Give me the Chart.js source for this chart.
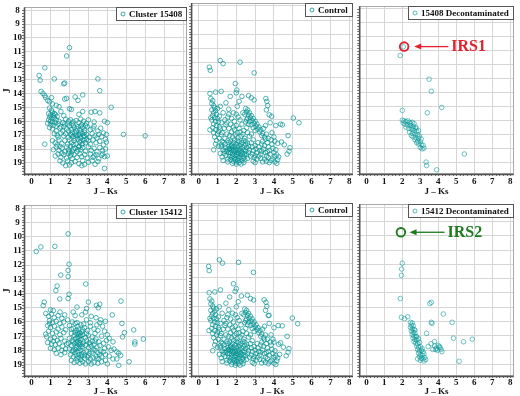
<!DOCTYPE html>
<html lang="en">
<head>
<meta charset="UTF-8">
<title>J vs J-Ks</title>
<style>
  body { margin: 0; background: #fff; }
  #wrap { position: relative; width: 520px; height: 396px; overflow: hidden; }
  #wrap canvas { position: absolute; }
</style>
</head>
<body>
<div id="wrap">
  <canvas id="p1" width="190" height="198" style="left:0;top:0"></canvas>
  <canvas id="p2" width="169" height="198" style="left:188px;top:0"></canvas>
  <canvas id="p3" width="167" height="198" style="left:353px;top:0"></canvas>
  <canvas id="p4" width="190" height="198" style="left:0;top:198px"></canvas>
  <canvas id="p5" width="169" height="198" style="left:188px;top:198px"></canvas>
  <canvas id="p6" width="167" height="198" style="left:353px;top:198px"></canvas>
</div>

<script src="https://cdn.jsdelivr.net/npm/chart.js"></script>
<script>
const jksTicks = [0, 1, 2, 3, 4, 5, 6, 7, 8]
const jTicks = [8, 9, 10, 11, 12, 13, 14, 15, 16, 17, 18, 19]
const panelLabels = ['Cluster 15408', 'Control', '15408 Decontaminated', 'Cluster 15412', 'Control', '15412 Decontaminated']

// [J-Ks, J] pairs
const cluster15408 = [
  [2.0,10.7],[1.85,11.3],[0.7,12.15],[0.4,12.7],[0.45,13.05],[1.2,12.95],[1.7,13.3],[1.75,13.25],[3.5,12.95],[3.6,13.8],
  [0.5,13.85],[0.6,14.0],[0.7,14.15],[0.75,14.3],[1.05,14.3],[0.85,14.5],[0.95,14.6],[1.75,14.4],[1.85,14.35],[2.3,14.25],
  [2.45,14.5],[2.7,14.1],[4.2,15.0],[1.1,14.75],[1.3,14.85],[1.45,14.95],[2.0,15.1],[2.1,15.15],[3.15,15.35],[3.35,15.3],
  [1.55,15.3],[1.7,15.6],[2.5,15.5],[2.7,15.3],[3.6,15.4],
  [0.95,15.05],[1.05,15.2],[1.1,15.35],[0.9,15.45],[1.0,15.55],[1.15,15.6],[1.25,15.5],[0.95,15.7],[1.05,15.8],[1.2,15.75],
  [1.3,15.9],[0.9,15.9],[1.0,16.0],[1.1,16.05],[1.25,16.1],[0.85,16.15],[1.0,16.25],[1.15,16.3],[1.3,16.35],[0.95,16.45],
  [1.1,16.55],[1.4,16.2],[1.2,15.45],[1.35,15.65],[1.45,16.0],[1.55,16.4],
  [1.8,15.85],[1.95,16.0],[2.05,15.9],[2.2,16.05],[2.35,15.95],[2.5,16.1],[2.6,15.85],[2.75,16.0],[2.9,16.15],[3.0,15.9],
  [3.3,16.05],[3.85,16.0],[4.0,16.1],[1.65,16.1],[2.15,16.2],[2.65,16.25],
  [1.5,16.5],[1.7,16.4],[1.85,16.55],[2.0,16.35],[2.1,16.6],[2.25,16.45],[2.35,16.7],[2.45,16.4],[2.55,16.6],[2.7,16.45],
  [2.8,16.65],[2.95,16.4],[3.1,16.6],[3.25,16.5],[1.3,16.7],[1.95,16.7],[2.6,16.35],[2.85,16.3],[3.5,16.7],
  [1.2,16.9],[1.35,17.0],[1.55,16.85],[1.7,17.05],[1.8,16.9],[1.95,17.15],[2.05,16.95],[2.2,17.1],[2.3,16.85],[2.4,17.05],
  [2.5,16.95],[2.6,17.2],[2.7,16.9],[2.8,17.1],[2.9,16.95],[3.05,17.15],[3.2,16.9],[3.35,17.05],[3.55,16.95],[3.7,17.1],
  [3.95,16.95],[4.85,16.95],[6.0,17.05],[2.15,16.8],[2.55,17.0],[2.75,17.05],
  [0.7,17.65],[1.1,17.4],[1.25,17.55],[1.45,17.35],[1.6,17.6],[1.75,17.4],[1.9,17.65],[2.0,17.35],[2.1,17.55],[2.25,17.4],
  [2.35,17.65],[2.45,17.3],[2.55,17.5],[2.65,17.7],[2.75,17.35],[2.85,17.55],[3.0,17.4],[3.1,17.65],[3.25,17.35],[3.4,17.55],
  [3.6,17.45],[3.8,17.7],[3.95,17.5],[2.2,17.7],[2.6,17.4],[1.35,17.7],
  [1.15,18.05],[1.3,17.85],[1.45,18.1],[1.6,17.95],[1.75,18.2],[1.85,17.85],[1.95,18.05],[2.05,17.8],[2.15,18.15],[2.3,17.95],
  [2.4,18.2],[2.5,17.85],[2.6,18.05],[2.7,17.9],[2.85,18.15],[3.0,17.85],[3.15,18.1],[3.3,17.95],[3.45,18.2],[3.6,17.9],
  [3.75,18.1],[3.9,18.0],[4.0,18.5],[2.0,18.2],[1.5,17.8],
  [1.25,18.5],[1.4,18.35],[1.55,18.6],[1.7,18.4],[1.85,18.65],[1.95,18.3],[2.05,18.5],[2.15,18.7],[2.25,18.4],[2.4,18.6],
  [2.55,18.35],[2.65,18.55],[2.8,18.4],[2.95,18.65],[3.1,18.35],[3.25,18.6],[3.4,18.4],[3.55,18.7],[3.7,18.45],[3.85,18.55],
  [2.1,18.35],[1.6,18.3],
  [1.5,18.85],[1.65,19.0],[1.9,18.85],[2.1,19.0],[2.3,18.9],[2.5,19.05],[2.7,18.85],[2.8,19.1],[3.0,18.95],[3.35,19.1],
  [3.5,18.9],[3.85,19.4],[2.0,19.15],[1.8,19.2],[2.65,19.2],[3.2,18.85],
  [2.2,16.3],[2.4,16.55],[2.3,17.25],[2.5,17.8],[2.7,17.6],[2.9,17.3],[2.45,18.05],[2.2,18.0],[1.9,16.2],[2.1,17.0],
  [2.35,17.0],[2.6,16.8],[2.8,16.8],[1.65,16.7],[1.4,17.15],[3.3,18.5],[3.45,17.2],[3.65,16.5],[3.8,16.85],[3.9,17.3],
  [3.75,18.35],[3.3,16.35],[1.75,16.2]
]

const control15408 = [
  [0.57,12.3],[0.62,12.52],[1.15,11.83],[1.3,12.05],[2.2,11.95],[2.95,12.7],[1.95,13.45],[2.03,13.9],[2.0,14.1],[0.6,14.15],
  [0.9,14.05],[1.2,14.0],[1.68,14.35],[2.3,14.35],[2.65,14.3],[2.8,14.45],[2.95,14.6],[3.57,14.5],[3.62,14.7],[3.67,15.0],
  [2.05,15.05],[1.45,14.8],[1.6,15.25],[2.15,14.7],[1.85,15.5],
  [5.03,15.87],[5.33,16.2],[3.88,15.75],[4.35,16.3],[4.45,16.35],[4.1,16.4],[4.75,17.1],[4.85,17.95],[4.8,18.2],[4.7,18.4],
  [4.2,18.8],[4.05,18.95],[4.15,19.05],[4.4,17.55],[4.55,17.75],[3.9,16.9],[4.0,17.2],[4.2,17.65],[3.85,17.4],
  [0.65,14.5],[0.75,14.65],[0.7,14.85],[0.8,15.0],[0.85,15.15],[0.7,15.3],[0.9,15.35],[0.8,15.5],[0.95,15.6],[0.75,15.7],
  [0.85,15.85],[1.0,15.9],[0.7,16.0],[0.9,16.1],[1.05,16.15],[0.8,16.3],[0.95,16.4],[1.1,16.5],[0.75,16.55],[0.9,16.7],
  [1.05,16.8],[1.15,16.65],[0.8,16.9],[1.0,17.0],[1.2,17.05],[0.85,17.2],[1.1,17.3],[0.95,17.45],[1.25,17.5],[0.9,17.7],
  [1.05,17.85],[0.8,18.1],[1.2,17.75],[1.0,15.2],[1.1,15.75],[1.2,16.2],[1.25,16.9],[0.65,15.85],[1.3,15.5],[1.4,16.0],
  [1.35,16.6],[1.5,17.0],[1.45,16.35],[1.55,15.8],[0.6,16.7],[1.15,15.05],
  [2.5,15.2],[2.6,15.3],[2.55,15.45],[2.7,15.5],[2.65,15.65],[2.8,15.7],[2.75,15.85],[2.9,15.9],[2.85,16.05],[3.0,16.1],
  [2.95,16.25],[3.1,16.3],[3.05,16.45],[3.2,16.5],[3.15,16.65],[3.3,16.7],[3.25,16.85],[3.4,16.95],[3.35,17.1],[2.6,15.9],
  [2.7,16.1],[2.8,16.35],[2.9,16.55],[3.0,16.75],[2.45,15.6],[2.55,16.0],[2.65,16.3],[3.5,17.2],[3.45,16.6],[3.6,17.0],
  [3.7,17.3],[3.55,16.4],[3.8,16.2],[3.75,15.65],[3.6,15.3],
  [1.6,15.6],[1.75,15.9],[1.9,16.1],[2.1,15.8],[2.2,16.0],[2.35,15.5],[1.7,16.3],[1.85,16.5],[2.0,16.4],[2.15,16.6],
  [2.3,16.3],[2.4,16.75],[1.6,16.6],[1.75,16.85],[1.9,16.7],[2.05,16.9],[2.2,16.85],[2.35,17.0],[1.65,17.1],[1.8,17.2],
  [1.95,17.05],[2.1,17.25],[2.25,17.15],[2.45,17.3],[2.55,16.55],[2.6,16.9],[2.7,17.15],[2.8,17.0],[2.9,17.4],[1.4,17.3],
  [1.55,17.45],[2.0,15.6],[1.5,16.2],[2.5,16.15],[1.3,17.6],
  [1.2,17.9],[1.3,18.1],[1.35,18.35],[1.25,18.6],[1.4,17.7],[1.45,17.95],[1.5,18.2],[1.45,18.5],[1.55,18.75],[1.6,17.6],
  [1.6,17.85],[1.65,18.05],[1.6,18.3],[1.65,18.55],[1.7,18.8],[1.7,17.5],[1.75,17.75],[1.8,17.95],[1.75,18.15],[1.8,18.4],
  [1.75,18.65],[1.85,18.9],[1.85,17.6],[1.9,17.85],[1.95,18.05],[1.9,18.25],[1.95,18.5],[1.9,18.7],[2.0,18.95],[2.0,17.7],
  [2.05,17.9],[2.1,18.1],[2.05,18.3],[2.1,18.55],[2.05,18.75],[2.15,19.0],[2.15,17.55],[2.2,17.8],[2.25,18.0],[2.2,18.2],
  [2.25,18.45],[2.2,18.65],[2.3,18.85],[2.3,17.6],[2.35,17.9],[2.4,18.1],[2.35,18.35],[2.4,18.6],[2.45,18.8],[2.5,17.5],
  [2.5,17.75],[2.55,17.95],[2.5,18.2],[2.55,18.45],[2.6,18.7],[2.6,17.65],[2.65,17.85],[2.7,18.1],[2.65,18.3],[2.75,18.55],
  [2.8,17.6],[2.85,17.9],[2.9,18.15],[2.85,18.4],[2.95,18.65],[3.0,17.8],[3.05,18.05],[3.1,18.3],[3.0,18.5],[3.15,17.6],
  [3.2,17.9],[3.25,18.15],[3.3,18.4],[3.35,17.7],[1.8,19.05],[2.25,19.1],[2.0,19.1],[2.4,19.0],[1.55,18.95],[1.3,18.85],
  [1.15,18.35],[1.9,17.4],[2.05,17.45],[2.4,17.45],[1.7,18.3],[1.85,18.15],[2.15,18.35],[1.95,18.8],[2.1,18.85],[2.35,18.7],
  [1.65,18.0],[2.0,18.15],[2.25,17.7],[1.8,18.55],[2.05,18.45],[1.55,18.1],[1.75,17.85],[2.3,18.25],[2.45,18.4],[1.4,18.2],
  [3.4,17.5],[3.5,17.8],[3.45,18.05],[3.55,18.3],[3.6,18.55],[3.5,18.75],[3.65,17.6],[3.7,17.9],[3.75,18.15],[3.8,18.4],
  [3.7,18.65],[3.85,18.85],[3.9,17.7],[3.95,18.0],[4.0,18.3],[4.05,18.55],[3.95,18.75],[4.1,18.1],[4.15,18.45],[4.25,18.6],
  [3.55,17.35],[3.3,18.7],[3.2,18.55],[3.4,18.95],[3.6,18.9],[3.1,18.75],[2.9,18.9],[3.0,19.0],[3.75,19.0],[4.05,17.5],
  [3.35,18.2],[3.65,18.25]
]

const decon15408 = [
  [2.05,10.7],[1.88,11.33],[3.49,13.02],[3.61,13.88],[4.19,15.04],[2.0,15.25],[3.39,15.42],[5.45,18.37],[3.32,18.95],[3.35,19.2],
  [3.91,19.5],
  [2.0,15.95],[2.1,16.0],[2.2,16.05],[2.3,16.0],[2.4,16.1],[2.55,16.1],[2.65,16.2],[2.05,16.15],[2.15,16.25],[2.3,16.3],
  [2.45,16.35],[2.6,16.4],[2.75,16.45],[2.2,16.45],[2.35,16.55],[2.5,16.6],[2.65,16.7],[2.8,16.75],[2.4,16.8],[2.55,16.9],
  [2.7,16.95],[2.85,17.0],[2.5,17.05],[2.6,17.15],[2.75,17.2],[2.9,17.25],[2.7,17.35],[2.85,17.45],[3.0,17.5],[2.9,17.65],
  [3.05,17.7],[3.15,17.75],[3.0,17.9],[3.2,17.95],[3.1,18.0],[2.75,16.55],[2.9,16.7],[2.45,16.2],[2.6,16.55],[2.95,17.1],
  [3.05,17.3],[2.8,17.55]
]

const cluster15412 = [
  [1.93,9.8],[0.25,11.04],[0.49,10.72],[1.23,10.68],[1.98,11.94],[1.93,12.37],[1.93,12.8],[1.54,12.7],[2.86,13.33],[1.35,13.47],
  [1.28,13.79],[1.98,14.05],[1.93,14.35],[1.49,14.38],[0.67,14.6],[0.61,14.85],[4.72,14.53],[3.42,14.83],[3.6,14.75],[3.52,15.0],
  [2.9,15.05],[4.26,15.5],[4.77,16.1],[5.39,16.56],[4.9,16.75],[4.8,17.05],[5.9,17.2],[5.45,17.4],[5.45,17.55],[4.6,18.2],
  [4.7,18.35],[4.5,18.6],[5.15,18.8],[4.6,19.05],[3.0,14.6],[2.4,14.95],[2.2,15.3],[2.3,15.55],[1.0,15.15],[1.15,15.2],
  [0.75,15.4],[0.9,15.6],[1.05,15.45],[1.2,15.7],[1.4,15.55],[1.6,15.75],[1.75,15.5],[0.95,15.9],[1.1,16.05],[1.3,15.95],
  [1.5,16.1],[1.7,16.0],[0.85,16.25],[1.0,16.4],[1.2,16.3],[1.4,16.5],[1.6,16.35],[1.8,16.55],[0.9,16.65],[1.1,16.8],
  [1.3,16.7],[1.5,16.9],[1.7,16.75],[0.8,17.05],[1.0,17.2],[1.2,17.1],[1.35,17.3],[1.55,17.15],[1.75,17.35],[0.85,17.45],
  [1.05,17.55],[1.25,17.6],[1.45,17.5],[1.65,17.7],[1.85,17.55],[1.0,17.85],[1.2,17.95],[1.4,17.85],[1.6,18.0],[1.8,17.9],
  [1.3,18.2],[1.55,18.3],[1.75,18.15],[0.95,16.1],[1.5,15.3],[1.9,15.85],[1.15,17.35],[0.75,16.85],
  [2.3,16.1],[2.45,16.3],[2.6,16.2],[2.2,16.45],[2.35,16.6],[2.5,16.5],[2.65,16.7],[2.8,16.4],[2.95,16.6],[3.1,16.3],
  [2.1,16.8],[2.25,16.95],[2.4,16.85],[2.55,17.0],[2.7,16.9],[2.85,17.1],[3.0,16.95],[3.2,17.05],[3.35,16.8],[3.5,16.6],
  [2.0,17.15],[2.15,17.3],[2.3,17.2],[2.45,17.35],[2.6,17.25],[2.75,17.4],[2.9,17.3],[3.05,17.45],[3.2,17.35],[3.4,17.2],
  [3.55,17.4],[3.7,17.0],[1.95,17.5],[2.1,17.65],[2.25,17.55],[2.4,17.7],[2.55,17.6],[2.7,17.75],[2.85,17.65],[3.0,17.8],
  [3.15,17.7],[3.3,17.6],[3.45,17.75],[3.6,17.65],[3.8,17.5],[3.95,17.3],[2.0,17.9],[2.15,18.05],[2.3,17.95],[2.45,18.1],
  [2.6,18.0],[2.75,18.15],[2.9,18.05],[3.05,18.2],[3.2,18.1],[3.35,18.0],[3.5,18.15],[3.65,18.05],[3.85,17.85],[4.05,17.75],
  [4.2,18.0],[2.05,18.3],[2.2,18.45],[2.35,18.35],[2.5,18.5],[2.65,18.4],[2.8,18.55],[2.95,18.45],[3.1,18.6],[3.25,18.5],
  [3.4,18.4],[3.55,18.6],[3.7,18.45],[3.9,18.3],[4.1,18.4],[2.1,18.7],[2.25,18.85],[2.4,18.75],[2.55,18.9],[2.7,18.8],
  [2.85,18.95],[3.0,18.8],[3.15,18.95],[3.3,18.85],[3.5,18.9],[3.7,18.8],[3.9,18.7],[4.0,18.95],[2.4,16.05],[2.55,16.8],
  [2.5,17.15],[2.35,17.45],[2.5,17.85],[2.65,18.25],[2.4,18.55],[2.6,18.65],[2.3,18.15],[2.45,16.7],[2.6,16.95],[2.4,17.1],
  [2.55,17.45],[2.35,17.8],[2.5,18.3],[2.7,17.55],[2.2,18.0],[2.45,17.55],[2.6,17.75],[2.3,16.75],[2.7,16.55],[2.8,18.35],
  [3.0,18.35],[2.9,16.8],[3.1,17.55],[3.25,17.95],[3.45,18.55],[3.6,18.3],[3.35,17.35],[3.8,18.1],[2.2,17.4],[2.1,16.5],
  [2.75,16.15],[2.9,15.85],[3.1,16.05],[3.3,16.5],[3.45,16.2],[3.6,16.05],[3.75,16.3],[3.85,16.65],[4.0,16.9],[4.1,17.15],
  [4.3,17.4],[4.35,17.9],[4.5,18.1],[4.3,18.6],[3.65,15.85],[3.9,15.95],[3.4,15.7],[2.65,15.5],[2.85,15.3],[3.15,15.6],
  [2.0,16.25],[2.15,16.0]
]

const control15412 = [
  [0.53,12.2],[0.56,12.49],[1.1,11.74],[1.27,11.97],[2.12,11.92],[2.91,12.61],[1.85,13.4],[1.94,13.93],[2.0,13.75],[0.56,14.02],
  [0.86,13.97],[1.16,13.83],[1.65,14.32],[2.27,14.25],[2.59,14.2],[2.76,14.43],[2.92,14.53],[3.48,14.51],[3.58,14.69],[3.62,14.97],
  [2.0,15.0],[1.45,14.75],[1.6,15.2],[2.1,14.65],[1.8,15.45],
  [4.98,15.78],[5.26,16.17],[3.74,15.6],[4.23,16.3],[4.44,16.32],[4.0,16.45],[4.7,17.05],[4.8,17.9],[4.75,18.15],[4.65,18.4],
  [4.15,18.75],[4.0,18.9],[4.1,19.0],[4.35,17.5],[4.5,17.8],[3.85,16.95],[3.95,17.25],[4.25,17.6],[3.8,17.45],[4.3,18.3],
  [0.6,14.45],[0.7,14.6],[0.65,14.8],[0.75,14.95],[0.8,15.1],[0.65,15.25],[0.85,15.3],[0.75,15.45],[0.9,15.55],[0.7,15.65],
  [0.8,15.8],[0.95,15.85],[0.65,15.95],[0.85,16.05],[1.0,16.1],[0.75,16.25],[0.9,16.35],[1.05,16.45],[0.7,16.5],[0.85,16.65],
  [1.0,16.75],[1.1,16.6],[0.75,16.85],[0.95,16.95],[1.15,17.0],[0.8,17.15],[1.05,17.25],[0.9,17.4],[1.2,17.45],[0.85,17.65],
  [1.0,17.8],[0.75,18.05],[1.15,17.7],[0.95,15.15],[1.05,15.7],[1.15,16.15],[1.2,16.85],[0.6,15.8],[1.25,15.45],[1.35,15.95],
  [1.3,16.55],[1.45,16.95],[1.4,16.3],[1.5,15.75],[0.55,16.65],[1.1,15.0],
  [2.45,15.15],[2.55,15.25],[2.5,15.4],[2.65,15.45],[2.6,15.6],[2.75,15.65],[2.7,15.8],[2.85,15.85],[2.8,16.0],[2.95,16.05],
  [2.9,16.2],[3.05,16.25],[3.0,16.4],[3.15,16.45],[3.1,16.6],[3.25,16.65],[3.2,16.8],[3.35,16.9],[3.3,17.05],[2.55,15.85],
  [2.65,16.05],[2.75,16.3],[2.85,16.5],[2.95,16.7],[2.4,15.55],[2.5,15.95],[2.6,16.25],[3.45,17.15],[3.4,16.55],[3.55,16.95],
  [3.65,17.25],[3.5,16.35],[3.75,16.15],[3.7,15.6],[3.55,15.25],
  [1.55,15.55],[1.7,15.85],[1.85,16.05],[2.05,15.75],[2.15,15.95],[2.3,15.45],[1.65,16.25],[1.8,16.45],[1.95,16.35],[2.1,16.55],
  [2.25,16.25],[2.35,16.7],[1.55,16.55],[1.7,16.8],[1.85,16.65],[2.0,16.85],[2.15,16.8],[2.3,16.95],[1.6,17.05],[1.75,17.15],
  [1.9,17.0],[2.05,17.2],[2.2,17.1],[2.4,17.25],[2.5,16.5],[2.55,16.85],[2.65,17.1],[2.75,16.95],[2.85,17.35],[1.35,17.25],
  [1.5,17.4],[1.95,15.55],[1.45,16.15],[2.45,16.1],[1.25,17.55],
  [1.15,17.85],[1.25,18.05],[1.3,18.3],[1.2,18.55],[1.35,17.65],[1.4,17.9],[1.45,18.15],[1.4,18.45],[1.5,18.7],[1.55,17.55],
  [1.55,17.8],[1.6,18.0],[1.55,18.25],[1.6,18.5],[1.65,18.75],[1.65,17.45],[1.7,17.7],[1.75,17.9],[1.7,18.1],[1.75,18.35],
  [1.7,18.6],[1.8,18.85],[1.8,17.55],[1.85,17.8],[1.9,18.0],[1.85,18.2],[1.9,18.45],[1.85,18.65],[1.95,18.9],[1.95,17.65],
  [2.0,17.85],[2.05,18.05],[2.0,18.25],[2.05,18.5],[2.0,18.7],[2.1,18.95],[2.1,17.5],[2.15,17.75],[2.2,17.95],[2.15,18.15],
  [2.2,18.4],[2.15,18.6],[2.25,18.8],[2.25,17.55],[2.3,17.85],[2.35,18.05],[2.3,18.3],[2.35,18.55],[2.4,18.75],[2.45,17.45],
  [2.45,17.7],[2.5,17.9],[2.45,18.15],[2.5,18.4],[2.55,18.65],[2.55,17.6],[2.6,17.8],[2.65,18.05],[2.6,18.25],[2.7,18.5],
  [2.75,17.55],[2.8,17.85],[2.85,18.1],[2.8,18.35],[2.9,18.6],[2.95,17.75],[3.0,18.0],[3.05,18.25],[2.95,18.45],[3.1,17.55],
  [3.15,17.85],[3.2,18.1],[3.25,18.35],[3.3,17.65],[1.75,19.0],[2.2,19.05],[1.95,19.05],[2.35,18.95],[1.5,18.9],[1.25,18.8],
  [1.1,18.3],[1.85,17.35],[2.0,17.4],[2.35,17.4],[1.65,18.25],[1.8,18.1],[2.1,18.3],[1.9,18.75],[2.05,18.8],[2.3,18.65],
  [1.6,17.95],[1.95,18.1],[2.2,17.65],[1.75,18.5],[2.0,18.4],[1.5,18.05],[1.7,17.8],[2.25,18.2],[2.4,18.35],[1.35,18.15],
  [3.35,17.45],[3.45,17.75],[3.4,18.0],[3.5,18.25],[3.55,18.5],[3.45,18.7],[3.6,17.55],[3.65,17.85],[3.7,18.1],[3.75,18.35],
  [3.65,18.6],[3.8,18.8],[3.85,17.65],[3.9,17.95],[3.95,18.25],[4.0,18.5],[3.9,18.7],[4.05,18.05],[4.1,18.4],[4.2,18.55],
  [3.5,17.3],[3.25,18.65],[3.15,18.5],[3.35,18.9],[3.55,18.85],[3.05,18.7],[2.85,18.85],[2.95,18.95],[3.7,18.95],[4.0,17.45],
  [3.3,18.15],[3.6,18.2]
]

const decon15412 = [
  [2.0,11.92],[1.96,12.33],[1.95,12.77],[1.89,14.39],[3.53,14.74],[3.61,14.65],[4.28,15.47],[1.95,15.7],[2.12,15.8],[2.3,15.66],
  [3.61,16.05],[3.65,16.12],[4.77,16.05],[3.35,16.82],[4.84,17.16],[5.4,17.41],[5.89,17.23],[5.16,18.77],
  [2.45,16.05],[2.55,16.1],[2.5,16.25],[2.6,16.3],[2.45,16.4],[2.55,16.5],[2.65,16.55],[2.5,16.65],[2.6,16.75],[2.7,16.8],
  [2.55,16.9],[2.65,17.0],[2.75,17.05],[2.6,17.15],[2.7,17.25],[2.8,17.3],[2.9,17.2],[2.65,17.4],[2.75,17.5],[2.85,17.55],
  [2.95,17.45],[2.8,17.7],[2.9,17.8],[3.0,17.75],[2.85,17.95],[2.95,18.05],[3.05,18.0],[3.15,18.1],[2.9,18.2],[3.0,18.3],
  [3.1,18.35],[3.2,18.25],[2.95,18.45],[3.05,18.55],[3.15,18.6],[3.25,18.5],[3.0,18.7],[3.2,18.75],[3.3,18.65],[2.85,18.6],
  [2.7,16.6],[2.8,17.05],[3.1,17.9],
  [3.44,17.74],[3.79,17.4],[3.8,17.7],[3.9,17.85],[4.0,17.65],[4.1,17.8],[3.95,18.0],[4.15,17.95],[4.2,18.1],[3.85,17.95],
  [4.05,17.75],[3.6,17.55],[3.7,17.95]
]

// the two bright sources that are circled
const irs1 = [[2.10, 10.69]]
const irs2 = [[1.92, 9.76]]

const serif = '"Liberation Serif", "Times New Roman", serif'
const teal = 'rgba(0,145,145,0.85)'
const tealLight = 'rgba(0,150,150,0.7)'

// frame around the plot area, darker left/bottom axes with small minor ticks
const framePlugin = {
    id: 'frame',
    beforeDatasetsDraw(chart) {
        const a = chart.chartArea
        const c = chart.ctx
        const xs = chart.scales.x, ys = chart.scales.y
        c.save()
        c.strokeStyle = '#a8a8a8'
        c.lineWidth = 1
        c.strokeRect(Math.round(a.left) + 0.5, Math.round(a.top) + 0.5, Math.round(a.right - a.left) - 1, Math.round(a.bottom - a.top) - 1)
        c.strokeStyle = '#707070'
        c.lineWidth = 1
        c.beginPath()
        for (let v = 8; v <= 19.8; v += 0.2) {
            const py = Math.round(ys.getPixelForValue(v)) + 0.5
            c.moveTo(a.left - 2, py); c.lineTo(a.left, py)
        }
        for (let v = -0.4; v <= 8.2; v += 0.2) {
            const px = Math.round(xs.getPixelForValue(v)) + 0.5
            c.moveTo(px, a.bottom); c.lineTo(px, a.bottom + 2)
        }
        c.stroke()
        c.strokeStyle = '#505050'
        c.lineWidth = 1.6
        c.beginPath()
        c.moveTo(a.left + 0.5, a.top); c.lineTo(a.left + 0.5, a.bottom + 0.5)
        c.lineTo(a.right, a.bottom + 0.5)
        c.stroke()
        c.restore()
    }
}

// boxed legend in the upper right corner
const boxLegend = {
    id: 'boxLegend',
    afterDatasetsDraw(chart) {
        const ds = chart.data.datasets[0]
        const a = chart.chartArea
        const c = chart.ctx
        c.save()
        c.font = 'bold 9px ' + serif
        const tw = c.measureText(ds.label).width
        const w = Math.round(tw + 18), h = 14
        const x0 = Math.round(a.right) - w, y0 = Math.round(a.top)
        c.fillStyle = '#fff'
        c.fillRect(x0, y0, w, h)
        c.strokeStyle = '#555'
        c.lineWidth = 1
        c.strokeRect(x0 + 0.5, y0 + 0.5, w - 1, h - 1)
        c.beginPath()
        c.arc(x0 + 7, y0 + h / 2, 2, 0, Math.PI * 2)
        c.strokeStyle = ds.borderColor
        c.lineWidth = 0.9
        c.stroke()
        c.fillStyle = '#111'
        c.textBaseline = 'middle'
        c.fillText(ds.label, x0 + 13, y0 + h / 2 + 0.5)
        c.restore()
    }
}

// arrow and label pointing at the circled source
const irsArrow = {
    id: 'irsArrow',
    afterDatasetsDraw(chart, args, opts) {
        if (!opts || !opts.text) return
        const c = chart.ctx
        const xs = chart.scales.x, ys = chart.scales.y
        const py = ys.getPixelForValue(opts.y)
        const x1 = xs.getPixelForValue(opts.from), x2 = xs.getPixelForValue(opts.to)
        c.save()
        c.strokeStyle = opts.color
        c.fillStyle = opts.color
        c.lineWidth = 1.3
        c.beginPath()
        c.moveTo(x1, py); c.lineTo(x2 + 5, py)
        c.stroke()
        c.beginPath()
        c.moveTo(x2, py); c.lineTo(x2 + 7, py - 3); c.lineTo(x2 + 7, py + 3); c.closePath()
        c.fill()
        c.font = 'bold 16px ' + serif
        c.textBaseline = 'middle'
        c.fillText(opts.text, xs.getPixelForValue(opts.textX), py + 0.5)
        c.restore()
    }
}

function makePanel(id, label, points, opts) {
    const datasets = [{
        label,
        data: points,
        borderColor: opts.light ? tealLight : teal,
        backgroundColor: 'rgba(0,0,0,0)',
        pointRadius: 2.3,
        pointHoverRadius: 2.3,
        borderWidth: 0.8
    }]
    if (opts.irs) {
        datasets.push({
            label: opts.irs.text,
            data: opts.irs.point,
            borderColor: opts.irs.color,
            backgroundColor: 'rgba(0,0,0,0)',
            pointRadius: 4.3,
            pointHoverRadius: 4.3,
            borderWidth: 1.9
        })
    }
    const tickFont = { family: serif, size: 9, weight: 'bold' }
    new Chart(document.getElementById(id), {
        type: 'scatter',
        data: { datasets },
        options: {
            responsive: false,
            animation: false,
            devicePixelRatio: 1,
            layout: { padding: { top: opts.top, right: opts.right, left: 0, bottom: 0 } },
            plugins: {
                legend: { display: false },
                tooltip: { enabled: false },
                irsArrow: opts.irs ? opts.irs : {}
            },
            scales: {
                x: {
                    type: 'linear',
                    min: -0.4,
                    max: 8.2,
                    afterBuildTicks: s => { s.ticks = jksTicks.map(v => ({ value: v })) },
                    afterFit: s => { s.height = opts.xh },
                    grid: { color: '#d6d6d6', lineWidth: 1, drawTicks: false },
                    border: { display: false },
                    ticks: { font: tickFont, color: '#111', padding: opts.tickPad, maxRotation: 0, autoSkip: false },
                    title: { display: true, text: 'J – Ks', font: tickFont, color: '#111', padding: { top: 0, bottom: opts.titlePad } }
                },
                y: {
                    type: 'linear',
                    reverse: true,
                    min: 7.8,
                    max: 19.8,
                    afterBuildTicks: s => { s.ticks = jTicks.map(v => ({ value: v })) },
                    afterFit: s => { s.width = opts.yw },
                    grid: { color: '#d6d6d6', lineWidth: 1, drawTicks: false },
                    border: { display: false },
                    ticks: { display: opts.yLabels, font: tickFont, color: '#111', padding: 2, crossAlign: 'center' },
                    title: { display: opts.yLabels, text: 'J', font: { family: serif, size: 10, weight: 'bold' }, color: '#111', padding: { top: 1, bottom: 0 } }
                }
            }
        },
        plugins: [framePlugin, boxLegend, irsArrow]
    })
}

const topRow = { top: 1, xh: 24, tickPad: 2, titlePad: 1 }
const botRow = { top: 5, xh: 20, tickPad: 1, titlePad: -1 }

makePanel('p1', panelLabels[0], cluster15408, { ...topRow, yw: 24, right: 3, yLabels: true })
makePanel('p2', panelLabels[1], control15408, { ...topRow, yw: 3, right: 4, yLabels: false })
makePanel('p3', panelLabels[2], decon15408, { ...topRow, yw: 3, right: 2, yLabels: false, light: true,
    irs: { text: 'IRS1', point: irs1, color: '#e3202b', y: 10.69, from: 4.56, to: 2.66, textX: 4.72 } })
makePanel('p4', panelLabels[3], cluster15412, { ...botRow, yw: 24, right: 3, yLabels: true })
makePanel('p5', panelLabels[4], control15412, { ...botRow, yw: 3, right: 4, yLabels: false })
makePanel('p6', panelLabels[5], decon15412, { ...botRow, yw: 3, right: 2, yLabels: false, light: true,
    irs: { text: 'IRS2', point: irs2, color: '#1d7a1d', y: 9.76, from: 4.35, to: 2.40, textX: 4.51 } })
</script>
</body>
</html>
